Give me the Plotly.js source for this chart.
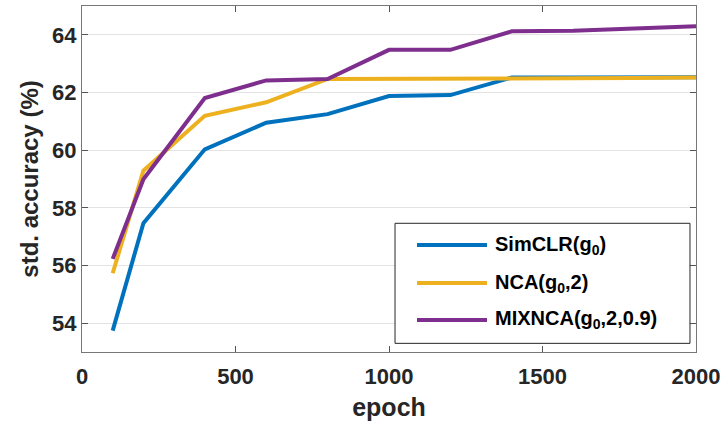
<!DOCTYPE html>
<html><head><meta charset="utf-8">
<script src="https://cdn.plot.ly/plotly-3.0.1.min.js"></script>
<style>body{margin:0;background:#fff}#c{width:724px;height:429px}</style>
</head><body><div id="c"></div>
<script>
const epochs = [100, 200, 400, 600, 800, 1000, 1200, 1400, 1600, 1800, 2000];
const simclr = [53.74, 57.47, 60.03, 60.95, 61.25, 61.88, 61.91, 62.52, 62.52, 62.52, 62.53];
const nca    = [55.73, 59.29, 61.19, 61.66, 62.47, 62.47, 62.47, 62.47, 62.48, 62.50, 62.52];
const mixnca = [56.23, 58.99, 61.81, 62.42, 62.47, 63.48, 63.48, 64.12, 64.14, 64.21, 64.30];
const names = ['SimCLR(g<sub>0</sub>)', 'NCA(g<sub>0</sub>,2)', 'MIXNCA(g<sub>0</sub>,2,0.9)'];
const colors = ['#0072BD', '#EDB120', '#7E2F8E'];
const series = [simclr, nca, mixnca];
const xTicks = [0, 500, 1000, 1500, 2000];
const yTicks = [54, 56, 58, 60, 62, 64];

const traces = series.map((s, i) => ({
  x: epochs, y: s, name: names[i], type: 'scatter', mode: 'lines',
  line: {color: colors[i], width: 4}, showlegend: false
}));
const font = {family: 'Liberation Sans, Arial, sans-serif', color: '#262626', weight: 'bold'};

// custom legend (box, sample lines, labels) in paper coordinates
const legBox = {x0: 0.5098, x1: 0.9902, y0: 0.025, y1: 0.372};
const rowY = [0.309, 0.1994, 0.0925];
const shapes = [{type: 'rect', xref: 'paper', yref: 'paper',
  x0: legBox.x0, x1: legBox.x1, y0: legBox.y0, y1: legBox.y1,
  line: {color: '#262626', width: 1}, fillcolor: '#fff', layer: 'above'}];
const annotations = [];
names.forEach((n, i) => {
  shapes.push({type: 'line', xref: 'paper', yref: 'paper', x0: 0.5456, x1: 0.6596,
    y0: rowY[i], y1: rowY[i], line: {color: colors[i], width: 4}, layer: 'above'});
  annotations.push({xref: 'paper', yref: 'paper', x: 0.6694, y: rowY[i],
    xanchor: 'left', yanchor: 'middle', showarrow: false, text: n,
    font: Object.assign({}, font, {size: 20, color: '#000'})});
});

const layout = {
  width: 724, height: 429,
  margin: {l: 82, r: 28, t: 6, b: 77},
  paper_bgcolor: '#fff', plot_bgcolor: '#fff',
  showlegend: false,
  shapes: shapes, annotations: annotations,
  xaxis: {range: [0, 2000], tickvals: xTicks, ticktext: xTicks.map(String),
    ticks: 'inside', ticklen: 6, tickcolor: '#555', mirror: 'ticks',
    showline: true, linecolor: '#777', linewidth: 1, showgrid: false, zeroline: false,
    ticklabelstandoff: 5,
    tickfont: Object.assign({}, font, {size: 22}),
    title: {text: 'epoch', font: Object.assign({}, font, {size: 25}), standoff: 10}},
  yaxis: {range: [53, 65], tickvals: yTicks, ticktext: yTicks.map(String),
    ticks: 'inside', ticklen: 6, tickcolor: '#555', mirror: 'ticks',
    showline: true, linecolor: '#777', linewidth: 1, showgrid: true, gridcolor: '#e3e3e3',
    zeroline: false,
    tickfont: Object.assign({}, font, {size: 22}),
    title: {text: 'std. accuracy (%)', font: Object.assign({}, font, {size: 24}), standoff: 6}}
};
Plotly.newPlot('c', traces, layout, {staticPlot: true});
</script></body></html>
